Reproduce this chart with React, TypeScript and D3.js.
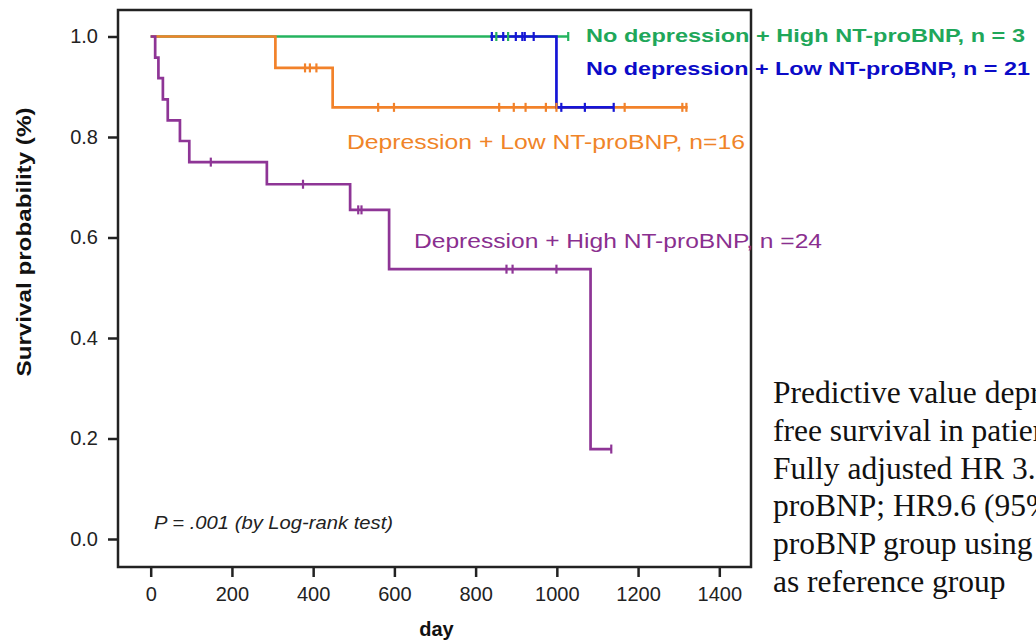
import * as d3 from 'd3';
import React, { useRef, useEffect } from 'react';

// plot frame (box drawn round the data area) and the data range inside it
const frame = { left: 118, top: 10, right: 751, bottom: 567 };
const plot = { x0: 150.7, x1: 719.3, y0: 539, y1: 36.5 };

const xTicks = [0, 200, 400, 600, 800, 1000, 1200, 1400];
const yTicks = [0, 0.2, 0.4, 0.6, 0.8, 1.0];

// Kaplan-Meier steps: time of each drop and survival after it
const purpleTimes = [0, 11, 19, 30, 42, 72, 95, 286, 491, 587, 1083];
const purpleSurv = [1, 0.958, 0.917, 0.875, 0.833, 0.792, 0.75, 0.706, 0.655, 0.537, 0.179];
const purpleEnd = 1134;
const purpleCensor = [148, 375, 511, 519, 876, 891, 999, 1134];

const orangeTimes = [0, 307, 448];
const orangeSurv = [1, 0.9375, 0.859];
const orangeEnd = 1322;
const orangeCensor = [380, 392, 408, 560, 599, 858, 894, 923, 973, 999, 1167, 1309, 1319];

const greenTimes = [0];
const greenSurv = [1];
const greenEnd = 1028;
const greenCensor = [851, 880, 1028];

const blueTimes = [0, 999];
const blueSurv = [1, 0.859];
const blueEnd = 1140;
const blueCensor = [840, 868, 899, 915, 921, 943, 1011, 1069, 1140];
const blueVisibleFrom = 836;

const groupNames = [
    'No depression + High NT-proBNP, n = 3',
    'No depression + Low NT-proBNP, n = 21',
    'Depression + Low NT-proBNP, n=16',
    'Depression + High NT-proBNP, n =24',
];

const noteLines = [
    'Predictive value depression on event-',
    'free survival in patients with heart failure.',
    'Fully adjusted HR 3.',
    'proBNP; HR9.6 (95%',
    'proBNP group using',
    'as reference group',
];

const SANS = '"Liberation Sans", Arial, Helvetica, sans-serif';

function App() {
    const ref = useRef(null);

    useEffect(() => {
        const svg = d3.select(ref.current);
        svg.selectAll('*').remove();

        const x = d3.scaleLinear().domain([0, 1400]).range([plot.x0, plot.x1]);
        const y = d3.scaleLinear().domain([0, 1]).range([plot.y0, plot.y1]);

        svg.append('rect')
            .attr('width', 1036).attr('height', 641).attr('fill', '#fff');

        // axes
        const yAxis = svg.append('g')
            .attr('transform', 'translate(' + frame.left + ',0)')
            .call(d3.axisLeft(y).tickValues(yTicks).tickSize(10).tickPadding(10).tickFormat(d3.format('.1f')));
        const xAxis = svg.append('g')
            .attr('transform', 'translate(0,' + frame.bottom + ')')
            .call(d3.axisBottom(x).tickValues(xTicks).tickSize(10).tickPadding(10).tickFormat(d3.format('d')));
        [xAxis, yAxis].forEach(g => {
            g.select('.domain').remove();
            g.selectAll('line').attr('stroke', '#222').attr('stroke-width', 2.5);
            g.selectAll('text')
                .attr('fill', '#222')
                .style('font-family', SANS)
                .style('font-size', '20px');
        });

        svg.append('rect')
            .attr('x', frame.left).attr('y', frame.top)
            .attr('width', frame.right - frame.left)
            .attr('height', frame.bottom - frame.top)
            .attr('fill', 'none')
            .attr('stroke', '#222')
            .attr('stroke-width', 2.5);

        svg.append('clipPath').attr('id', 'blueClip')
            .append('rect')
            .attr('x', x(blueVisibleFrom)).attr('y', 0)
            .attr('width', 1036).attr('height', 641);

        const line = d3.line().curve(d3.curveStepAfter)
            .x(d => x(d[0])).y(d => y(d[1]));

        const curves = [
            { times: greenTimes, surv: greenSurv, end: greenEnd, censor: greenCensor, color: '#25b35f' },
            { times: orangeTimes, surv: orangeSurv, end: orangeEnd, censor: orangeCensor, color: '#f2822a' },
            { times: blueTimes, surv: blueSurv, end: blueEnd, censor: blueCensor, color: '#1515d6', clip: true },
            { times: purpleTimes, surv: purpleSurv, end: purpleEnd, censor: purpleCensor, color: '#8e3596' },
        ];

        curves.forEach(c => {
            const pts = c.times.map((t, i) => [t, c.surv[i]]);
            pts.push([c.end, c.surv[c.surv.length - 1]]);
            const p = svg.append('path')
                .attr('d', line(pts))
                .attr('fill', 'none')
                .attr('stroke', c.color)
                .attr('stroke-width', 2.7);
            if (c.clip) p.attr('clip-path', 'url(#blueClip)');
        });

        // censor ticks, green last so they sit on the blue line
        const survAt = (c, t) => {
            let s = 1;
            c.times.forEach((tt, i) => { if (tt <= t) s = c.surv[i]; });
            return s;
        };
        [curves[1], curves[2], curves[3], curves[0]].forEach(c => {
            svg.append('g').selectAll('line')
                .data(c.censor)
                .enter()
                .append('line')
                .attr('x1', d => x(d)).attr('x2', d => x(d))
                .attr('y1', d => y(survAt(c, d)) - 4.5)
                .attr('y2', d => y(survAt(c, d)) + 4.5)
                .attr('stroke', c.color)
                .attr('stroke-width', 2.2);
        });

        // group labels
        const labels = [
            { text: groupNames[0], x: 586, y: 41.5, len: 439, color: '#1fa75a', weight: 'bold', size: 19 },
            { text: groupNames[1], x: 586, y: 75, len: 444, color: '#0b0bc8', weight: 'bold', size: 19 },
            { text: groupNames[2], x: 347, y: 149, len: 398, color: '#f08428', weight: 'normal', size: 20 },
            { text: groupNames[3], x: 414, y: 248, len: 408, color: '#8a2f8f', weight: 'normal', size: 20 },
        ];
        labels.forEach(l => {
            svg.append('text')
                .attr('x', l.x).attr('y', l.y)
                .attr('textLength', l.len)
                .attr('lengthAdjust', 'spacingAndGlyphs')
                .attr('fill', l.color)
                .style('font-family', SANS)
                .style('font-weight', l.weight)
                .style('font-size', l.size + 'px')
                .text(l.text);
        });

        svg.append('text')
            .attr('x', 154).attr('y', 529)
            .attr('textLength', 239)
            .attr('lengthAdjust', 'spacingAndGlyphs')
            .attr('fill', '#222')
            .style('font-family', SANS)
            .style('font-style', 'italic')
            .style('font-size', '19px')
            .text('P = .001 (by Log-rank test)');

        svg.append('text')
            .attr('x', (frame.left + frame.right) / 2 + 2).attr('y', 636)
            .attr('text-anchor', 'middle')
            .attr('fill', '#111')
            .style('font-family', SANS)
            .style('font-weight', 'bold')
            .style('font-size', '20px')
            .text('day');

        svg.append('text')
            .attr('transform', 'translate(31,242) rotate(-90)')
            .attr('text-anchor', 'middle')
            .attr('textLength', 269)
            .attr('lengthAdjust', 'spacingAndGlyphs')
            .attr('fill', '#111')
            .style('font-family', SANS)
            .style('font-weight', 'bold')
            .style('font-size', '19.5px')
            .text('Survival  probability (%)');

        svg.append('g').selectAll('text')
            .data(noteLines)
            .enter()
            .append('text')
            .attr('x', 773)
            .attr('y', (d, i) => 403 + i * 37.8)
            .attr('fill', '#111')
            .style('font-family', '"Liberation Serif", "Times New Roman", serif')
            .style('font-size', '31.5px')
            .text(d => d);
    }, []);

    return (
        <svg ref={ref} width={1036} height={641}
            style={{ position: 'absolute', left: 0, top: 0, display: 'block' }}>
        </svg>
    );
}

export default App;
